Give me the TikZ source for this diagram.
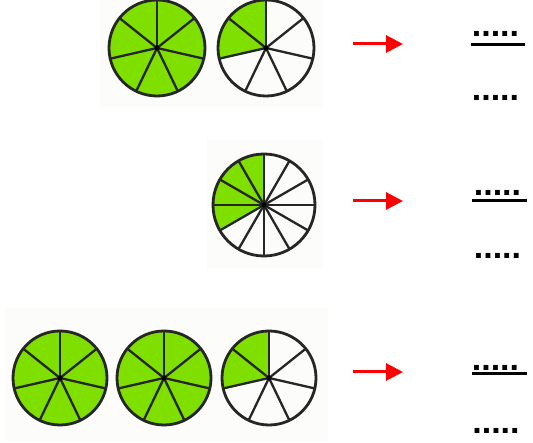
\documentclass[tikz,border=0pt]{standalone}
\usepackage{fontspec}
\setmainfont{Liberation Sans}
\usetikzlibrary{arrows.meta}
\definecolor{limegreen}{RGB}{127,224,0}
\definecolor{patch}{RGB}{252,252,251}

\tikzset{
  rim/.style={line width=2.8pt, black!85},
  spoke/.style={line width=2.3pt, black!85},
  redarrow/.style={line width=3pt, red, -{Triangle[length=17pt,width=17pt]}},
  bar/.style={line width=3pt},
  dots/.style={font=\fontsize{34}{34}\selectfont\bfseries, inner sep=0pt, anchor=base},
}

% centre, radius, number of parts, shaded parts
\newcommand{\fracpie}[4]{%
  \fill[limegreen] (#1) -- ++(90:#2) arc (90:90+#4*360/#3:#2) -- cycle;
  \foreach \k in {1,...,#3}
    \draw[spoke] (#1) -- ++(90+\k*360/#3:#2);
  \draw[rim] (#1) circle (#2);
  \fill (#1) circle (2.6);
}

\begin{document}
\begin{tikzpicture}[x=1pt,y=1pt]
\useasboundingbox (0,0) rectangle (533,443);
%\draw[help lines, step=10] (0,0) grid (533,443);

% faint picture backgrounds
\fill[patch] (100,336) rectangle (322,443);
\fill[patch] (207,175) rectangle (323,303);
\fill[patch] (5,2) rectangle (328,135);

% pies
\coordinate (p11) at (157,395);
\coordinate (p12) at (266,395);
\coordinate (p21) at (264,238);
\coordinate (p31) at (60,65);
\coordinate (p32) at (164,65);
\coordinate (p33) at (269,65);

\fracpie{p11}{48}{7}{7}
\fracpie{p12}{48}{7}{2}
\fracpie{p21}{51}{12}{4}
\fracpie{p31}{47}{7}{7}
\fracpie{p32}{47}{7}{7}
\fracpie{p33}{47}{7}{2}

% arrows
\coordinate (a1) at (353,399);
\coordinate (a1e) at (403,399);
\coordinate (a2) at (353,242);
\coordinate (a2e) at (403,242);
\coordinate (a3) at (353,71);
\coordinate (a3e) at (403,71);
\draw[redarrow] (a1) -- (a1e);
\draw[redarrow] (a2) -- (a2e);
\draw[redarrow] (a3) -- (a3e);

% fractions to fill in
\node[dots] (num1) at (495.5,406.3) {.....};
\draw[bar] (471,398.7) -- (525,398.7);
\node[dots] (den1) at (495.5,342.9) {.....};

\node[dots] (num2) at (497.5,247.9) {.....};
\draw[bar] (472,242.3) -- (527,242.3);
\node[dots] (den2) at (497.5,184.9) {.....};

\node[dots] (num3) at (495.5,72.3) {.....};
\draw[bar] (472,69.3) -- (527,69.3);
\node[dots] (den3) at (496,9.9) {.....};
\end{tikzpicture}
\end{document}
